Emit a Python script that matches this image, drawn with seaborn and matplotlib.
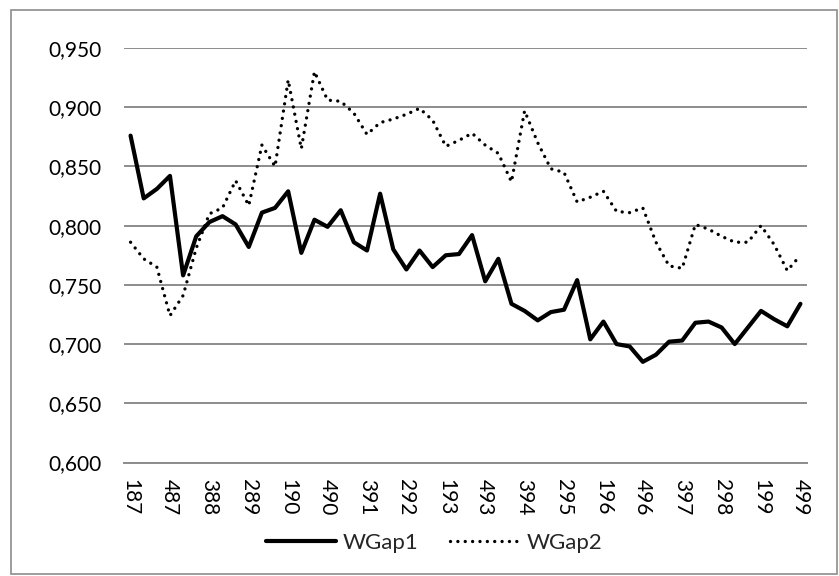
import numpy as np
import pandas as pd
from matplotlib import pyplot as plt
from matplotlib.ticker import FuncFormatter
from matplotlib.patches import Rectangle
import seaborn as sns

# quarterly series, 1/87 .. 4/99
wgap1 = [0.876, 0.823, 0.831, 0.842, 0.758, 0.791, 0.803, 0.808, 0.801, 0.782,
         0.811, 0.815, 0.829, 0.777, 0.805, 0.799, 0.813, 0.786, 0.779, 0.827,
         0.780, 0.763, 0.779, 0.765, 0.775, 0.776, 0.792, 0.753, 0.772, 0.734,
         0.728, 0.720, 0.727, 0.729, 0.754, 0.704, 0.719, 0.700, 0.698, 0.685,
         0.691, 0.702, 0.703, 0.718, 0.719, 0.714, 0.700, 0.714, 0.728, 0.721,
         0.715, 0.734]
wgap2 = [0.786, 0.772, 0.765, 0.724, 0.741, 0.781, 0.810, 0.815, 0.838, 0.817,
         0.868, 0.850, 0.923, 0.865, 0.930, 0.906, 0.905, 0.895, 0.877, 0.887,
         0.890, 0.894, 0.899, 0.889, 0.867, 0.872, 0.878, 0.868, 0.861, 0.837,
         0.897, 0.870, 0.848, 0.845, 0.820, 0.824, 0.829, 0.812, 0.811, 0.815,
         0.786, 0.766, 0.764, 0.801, 0.797, 0.791, 0.786, 0.786, 0.800, 0.784,
         0.762, 0.775]
tick_labels = ['187', '487', '388', '289', '190', '490', '391', '292', '193',
               '493', '394', '295', '196', '496', '397', '298', '199', '499']

sns.set_style('white')
plt.rcParams['font.family'] = ['Lato', 'DejaVu Sans']

df = pd.DataFrame({'q': np.arange(len(wgap1)), 'WGap1': wgap1, 'WGap2': wgap2})

fig = plt.figure(figsize=(8.39, 5.76), dpi=100)
ax = fig.add_axes([124 / 839, 1 - 462.5 / 576, 683 / 839, 414.5 / 576])

sns.lineplot(data=df, x='q', y='WGap1', ax=ax, color='black', lw=3.0,
             label='WGap1')
sns.lineplot(data=df, x='q', y='WGap2', ax=ax, color='black', lw=2.4,
             label='WGap2', linestyle=(0, (0.01, 2.2)), dash_capstyle='round')

ax.set_ylim(0.6, 0.95)
ax.set_yticks(np.arange(0.6, 0.951, 0.05))
ax.yaxis.set_major_formatter(FuncFormatter(lambda v, _: f'{v:.3f}'.replace('.', ',')))
ax.set_xlim(-0.5, len(wgap1) - 0.5)
ax.set_xticks(np.arange(0, len(wgap1), 3))
ax.set_xticklabels(tick_labels, rotation=270)
ax.tick_params(axis='both', length=0, labelsize=15, colors='black')
ax.tick_params(axis='y', pad=16)
ax.tick_params(axis='x', pad=12)
ax.set_xlabel('')
ax.set_ylabel('')

ax.grid(axis='y', color='#8c8c8c', lw=1.4)
ax.set_axisbelow(True)
for s in ['top', 'right', 'left']:
    ax.spines[s].set_visible(False)
ax.spines['bottom'].set_color('#8c8c8c')
ax.spines['bottom'].set_linewidth(1.4)

ax.legend(loc='center', bbox_to_anchor=(434 / 839, 1 - 543 / 576),
          bbox_transform=fig.transFigure, ncol=2, frameon=False,
          fontsize=16, handlelength=3.15, columnspacing=1.4, handletextpad=0.32,
          borderpad=0, borderaxespad=0)

fig.patches.append(Rectangle((11 / 839, 2 / 576), 826 / 839, 564 / 576,
                             transform=fig.transFigure, fill=False,
                             edgecolor='#8c8c8c', lw=1.2))

fig.savefig('out.png', dpi=100, facecolor='white')
